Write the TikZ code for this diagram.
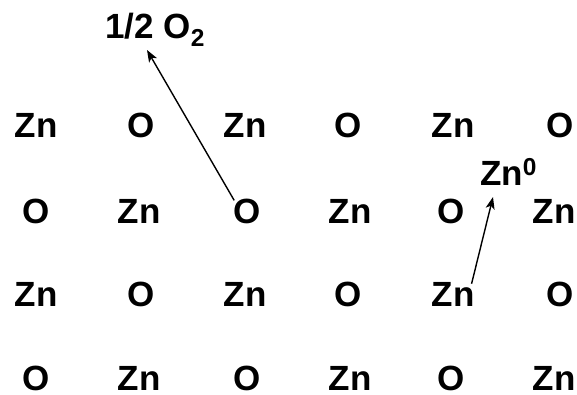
\documentclass[tikz,border=0pt]{standalone}
\usepackage{fontspec}
\setmainfont{Liberation Sans}
\usetikzlibrary{arrows.meta}
\begin{document}
\begin{tikzpicture}[x=1pt,y=-1pt,
  atom/.style={anchor=base,inner sep=0pt,font=\fontsize{35}{40}\selectfont\bfseries},
  lbl/.style={anchor=base west,inner sep=0pt,font=\fontsize{35}{40}\selectfont\bfseries},
  arr/.style={line width=1.4pt,-{Stealth[length=12pt,width=9pt,inset=3pt]}}]
\useasboundingbox (0,0) rectangle (577,394);
% row 1
\node[atom] (a11) at (36,137) {Zn};
\node[atom] (a12) at (141,137) {O};
\node[atom] (a13) at (245,137) {Zn};
\node[atom] (a14) at (348,137) {O};
\node[atom] (a15) at (453,137) {Zn};
\node[atom] (a16) at (560,137) {O};
% row 2
\node[atom] (a21) at (36,223) {O};
\node[atom] (a22) at (139,223) {Zn};
\node[atom] (a23) at (247,223) {O};
\node[atom] (a24) at (350,223) {Zn};
\node[atom] (a25) at (451,223) {O};
\node[atom] (a26) at (554,223) {Zn};
% row 3
\node[atom] (a31) at (36,306) {Zn};
\node[atom] (a32) at (141,306) {O};
\node[atom] (a33) at (245,306) {Zn};
\node[atom] (a34) at (348,306) {O};
\node[atom] (a35) at (453,306) {Zn};
\node[atom] (a36) at (560,306) {O};
% row 4
\node[atom] (a41) at (36,390) {O};
\node[atom] (a42) at (139,390) {Zn};
\node[atom] (a43) at (247,390) {O};
\node[atom] (a44) at (350,390) {Zn};
\node[atom] (a45) at (451,390) {O};
\node[atom] (a46) at (554,390) {Zn};
% labels
\node[lbl] (half) at (105,38) {1/2 O\textsubscript{2}};
\node[lbl] (zn0) at (480,185) {Zn\textsuperscript{0}};
% arrows
\coordinate (s1) at ([shift={(1pt,-2pt)}]a23.north west);
\coordinate (t1) at ([shift={(42pt,-12pt)}]half.base west);
\draw[arr] (s1) -- (t1);
\coordinate (s2) at ([shift={(-3pt,-2pt)}]a35.north east);
\coordinate (t2) at ([shift={(13pt,-12pt)}]zn0.base west);
\draw[arr] (s2) -- (t2);
\end{tikzpicture}
\end{document}
